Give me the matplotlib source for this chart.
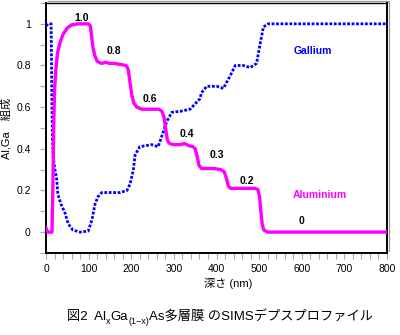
import matplotlib
matplotlib.use("Agg")
import matplotlib.pyplot as plt
from matplotlib.lines import Line2D
from matplotlib.ticker import MultipleLocator
import matplotlib.transforms as mtransforms

plt.rcParams['font.family'] = ['Liberation Sans', 'Noto Sans CJK JP', 'DejaVu Sans']

# Aluminium depth profile (depth in nm, fraction)
al_depth = [0, 4, 14, 16, 18, 20, 23, 27, 33, 40, 50, 60, 75, 90, 100, 104, 107, 110,
            114, 120, 130, 140, 150, 160, 175, 188, 193, 197, 201, 206, 213, 225, 240,
            255, 265, 272, 277, 281, 285, 290, 300, 315, 325, 335, 345, 350, 355, 359,
            365, 380, 395, 410, 418, 423, 428, 433, 450, 470, 490, 497, 501, 504, 507,
            511, 520, 600, 700, 800]
al_value = [0.02, 0.0, 0.0, 0.2, 0.5, 0.68, 0.78, 0.86, 0.91, 0.95, 0.98, 0.995, 1.0,
            1.0, 1.0, 0.99, 0.94, 0.89, 0.85, 0.82, 0.81, 0.815, 0.81, 0.81, 0.805, 0.80,
            0.78, 0.72, 0.66, 0.62, 0.60, 0.59, 0.59, 0.59, 0.59, 0.58, 0.55, 0.49, 0.44,
            0.425, 0.42, 0.42, 0.425, 0.415, 0.41, 0.40, 0.36, 0.32, 0.305, 0.305, 0.305,
            0.30, 0.29, 0.26, 0.22, 0.21, 0.21, 0.21, 0.21, 0.205, 0.17, 0.10, 0.04, 0.01,
            0.0, 0.0, 0.0, 0.0]

# Gallium depth profile (depth in nm, fraction)
ga_depth = [0, 5, 12, 13, 14, 15, 17, 21, 25, 28, 35, 45, 52, 63, 80, 99, 108, 115, 122,
            131, 150, 174, 190, 197, 205, 209, 220, 248, 263, 275, 283, 295, 315, 338,
            361, 365, 377, 401, 416, 432, 444, 463, 479, 494, 502, 510, 521, 600, 700, 800]
ga_value = [0.99, 1.0, 1.0, 0.8, 0.6, 0.45, 0.36, 0.30, 0.255, 0.18, 0.135, 0.09, 0.04,
            0.01, 0.0, 0.005, 0.06, 0.135, 0.17, 0.19, 0.19, 0.19, 0.2, 0.23, 0.30, 0.37,
            0.41, 0.42, 0.41, 0.48, 0.53, 0.575, 0.58, 0.59, 0.64, 0.67, 0.70, 0.70, 0.69,
            0.75, 0.80, 0.80, 0.79, 0.81, 0.90, 0.985, 1.0, 1.0, 1.0, 1.0]

# Nominal layer compositions written next to each plateau
layer_labels = ['1.0', '0.8', '0.6', '0.4', '0.3', '0.2', '0']
layer_label_x = [84, 160, 244, 330, 401, 471, 600]
layer_label_y = [1.03, 0.87, 0.64, 0.47, 0.37, 0.245, 0.055]

x_ticks = [0, 100, 200, 300, 400, 500, 600, 700, 800]
y_ticks = [0, 0.2, 0.4, 0.6, 0.8, 1]
y_tick_labels = ['0', '0.2', '0.4', '0.6', '0.8', '1']

AL_COLOR = '#ff00ff'
GA_COLOR = '#0000ff'

fig = plt.figure(figsize=(4.0, 3.35), dpi=100)
ax = fig.add_axes([0.115, 0.245, 0.8525, 0.746])

ax.plot(ga_depth, ga_value, color=GA_COLOR, lw=2.0, linestyle=(0, (1.0, 0.6)),
        dash_capstyle='butt', zorder=3)
ax.plot(al_depth, al_value, color=AL_COLOR, lw=2.4, solid_joinstyle='round', zorder=4)

for lab, lx, ly in zip(layer_labels, layer_label_x, layer_label_y):
    ax.text(lx, ly, lab, ha='center', va='center', fontsize=7.5, fontweight='bold',
            color='black')

ax.text(627, 0.87, 'Gallium', ha='center', va='center', fontsize=7.5,
        color=GA_COLOR, fontweight='bold')
ax.text(643, 0.18, 'Aluminium', ha='center', va='center', fontsize=7.5,
        color=AL_COLOR, fontweight='bold')

ax.set_xlim(0, 800)
ax.set_ylim(-0.1, 1.1)
ax.set_xticks(x_ticks)
ax.set_yticks(y_ticks)
ax.set_yticklabels(y_tick_labels)
ax.xaxis.set_minor_locator(MultipleLocator(20))
ax.yaxis.set_minor_locator(MultipleLocator(0.1))
ax.tick_params(which='both', direction='out', length=4, width=0.8, color='#aaaaaa',
               labelsize=7.5, labelcolor='black', pad=4)
ax.tick_params(axis='y', which='major', pad=7)

for side in ['left', 'bottom', 'top', 'right']:
    ax.spines[side].set_color('black')
    ax.spines[side].set_linewidth(1.4)
ax.spines['top'].set_linewidth(1.0)

# thin grey shadow outside the top and right frame edges
shadow = mtransforms.offset_copy(ax.transAxes, fig=fig, x=1.6, y=1.6, units='dots')
ax.add_line(Line2D([0, 1, 1], [1, 1, 0], transform=shadow, color='#999999', lw=0.9,
                   clip_on=False))

ax.set_ylabel('Al,Ga\u3000組成', fontsize=8)
ax.yaxis.set_label_coords(-0.098, 0.5)
ax.set_xlabel('深さ (nm)', fontsize=8)
ax.xaxis.set_label_coords(0.534, -0.1)

# Caption with subscripts, chained piece by piece
cap_fs = 9.5
sub_fs = 6.5
t1 = fig.text(0.2, 0.035, '図2  Al', fontsize=cap_fs, ha='left', va='bottom')
t2 = fig.add_artist(plt.Annotation('x', xy=(1, 0), xycoords=t1, xytext=(0, -2),
                                   textcoords='offset points', fontsize=sub_fs,
                                   ha='left', va='bottom'))
t3 = fig.add_artist(plt.Annotation('Ga', xy=(1, 0), xycoords=t2, xytext=(0, 2),
                                   textcoords='offset points', fontsize=cap_fs,
                                   ha='left', va='bottom'))
t4 = fig.add_artist(plt.Annotation('(1\u2212x)', xy=(1, 0), xycoords=t3, xytext=(0, -2),
                                   textcoords='offset points', fontsize=sub_fs,
                                   ha='left', va='bottom'))
t5 = fig.add_artist(plt.Annotation('As多層膜 のSIMSデプスプロファイル', xy=(1, 0),
                                   xycoords=t4, xytext=(0, 2),
                                   textcoords='offset points', fontsize=cap_fs,
                                   ha='left', va='bottom'))

fig.canvas.draw()
r = fig.canvas.get_renderer()
left = t1.get_window_extent(r).x0
right = t5.get_window_extent(r).x1
width = right - left
target_center = 220.0
t1.set_x((target_center - width / 2) / fig.bbox.width)

fig.savefig('out.png', dpi=100)
